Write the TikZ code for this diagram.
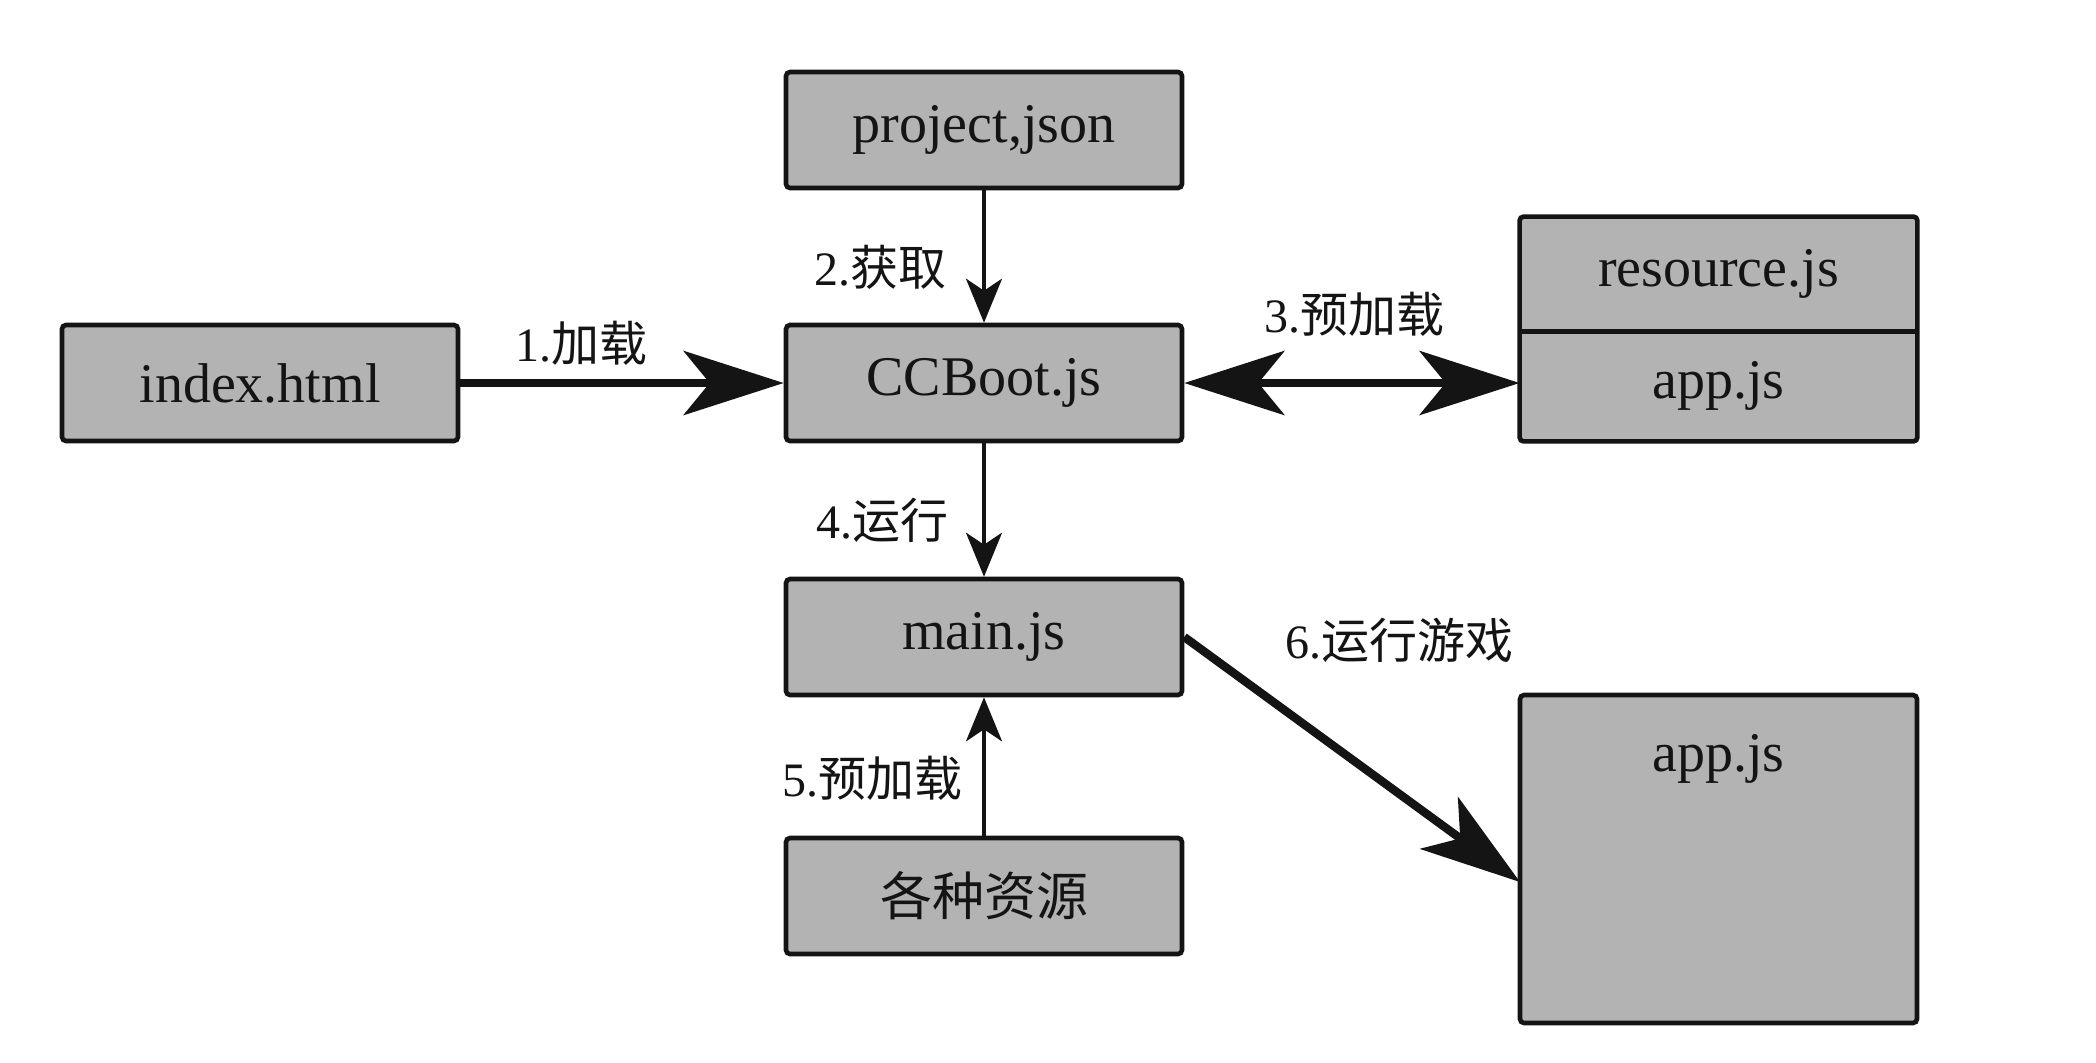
\documentclass[tikz,border=0pt]{standalone}
\usepackage{fontspec}
\setmainfont{Liberation Serif}
\newfontfamily\cjk{Noto Sans CJK SC}
\usetikzlibrary{arrows.meta}
\definecolor{boxgray}{RGB}{179,179,179}
\definecolor{ink}{RGB}{20,20,20}
\begin{document}
\begin{tikzpicture}[x=0.5pt,y=-0.5pt,
  box/.style={draw=ink, fill=boxgray, line width=2.3pt, rounded corners=2pt, inner sep=0pt,
    minimum width=198pt, minimum height=58pt, text=ink, font=\fontsize{28}{32}\selectfont},
  flat/.style={fill=boxgray, inner sep=0pt, minimum width=198.5pt, text=ink, font=\fontsize{28}{32}\selectfont},
  lab/.style={font=\fontsize{24}{28}\selectfont, inner sep=0pt, text=ink},
  thinarrow/.style={draw=ink, line width=1.9pt, -{Stealth[length=22pt,width=18pt,inset=6pt]}},
  thickarrow/.style={draw=ink, line width=4.2pt, -{Stealth[length=50pt,width=32pt,inset=13pt]}},
  thickbi/.style={draw=ink, line width=4.2pt, {Stealth[length=50pt,width=32pt,inset=13pt]}-{Stealth[length=50pt,width=32pt,inset=13pt]}},
]
\fill[white] (0,0) rectangle (2096,1062);
\useasboundingbox (0,0) rectangle (2096,1062);

% boxes
\node[box] (proj) at (984,130) {project,json};
\node[box] (idx) at (260,383) {index.html};
\node[box] (cc) at (984,383) {CCBoot.js};
\node[box] (main) at (984,637) {main.js};
\node[box, font=\cjk\fontsize{26}{30}\selectfont] (res2) at (984,896) {各种资源};

% resource.js / app.js stacked box
\node[flat, minimum height=57pt] (res) at (1718.5,274) {resource.js};
\node[flat, minimum height=55pt] (app1) at (1718.5,386) {app.js};
\draw[ink, line width=2.3pt, rounded corners=2pt] (res.north west) rectangle (app1.south east);
\draw[ink, line width=2.3pt] (res.south west) -- (res.south east);

% big app.js box
\node[box, minimum width=198.5pt, minimum height=164pt] (app2) at (1718.5,859) {};
\node[flat, fill=none] (app2t) at (1718.5,759) {app.js};

% connectors
\draw[thickarrow] (idx.east) -- (cc.west);
\draw[thinarrow] (proj.south) -- (cc.north);
\draw[thickbi] (cc.east) -- (cc.east -| app1.west);
\draw[thinarrow] (cc.south) -- (main.north);
\draw[thinarrow] (res2.north) -- (main.south);
\coordinate (t6) at (1520,882);
\draw[thickarrow] (main.east) -- (t6);

% labels
\node[lab] (l1) at (581,343) {1.{\cjk 加载}};
\node[lab] (l2) at (880,267) {2.{\cjk 获取}};
\node[lab] (l3) at (1354,314) {3.{\cjk 预加载}};
\node[lab] (l4) at (882,520) {4.{\cjk 运行}};
\node[lab] (l5) at (872,778) {5.{\cjk 预加载}};
\node[lab] (l6) at (1399,640) {6.{\cjk 运行游戏}};
\end{tikzpicture}
\end{document}
